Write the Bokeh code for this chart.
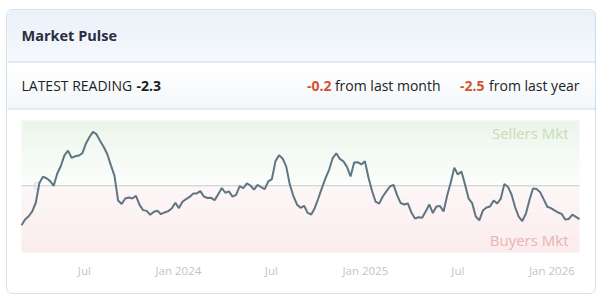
import numpy as np
import pandas as pd
from bokeh.plotting import figure
from bokeh.models import Range1d, BoxAnnotation, Label
from bokeh.core.properties import value
from bokeh.embed import file_html
from bokeh.resources import INLINE

# ---------------- data ----------------
start_date = "2023-02-28"
values = [
    -2.72, -2.32, -2.10, -1.77, -1.17, 0.19, 0.62, 0.52, 0.32, 0.00,
    0.85, 1.36, 2.10, 2.42, 1.93, 2.03, 2.08, 2.24, 2.90, 3.36,
    3.72, 3.54, 3.08, 2.67, 2.17, 1.41, 0.68, -1.01, -1.26, -0.88,
    -0.81, -0.88, -0.69, -1.32, -1.68, -1.73, -2.00, -1.79, -1.72, -1.96,
    -1.84, -1.75, -1.57, -1.17, -1.54, -1.10, -0.92, -0.77, -0.54, -0.53,
    -0.37, -0.74, -0.84, -0.83, -0.99, -0.58, -0.16, -0.48, -0.39, -0.75,
    -0.63, -0.02, -0.17, 0.17, 0.02, -0.26, 0.06, -0.10, -0.23, 0.30,
    0.46, 1.70, 2.10, 1.88, 1.34, 0.10, -0.70, -1.29, -1.52, -1.38,
    -1.87, -1.98, -1.53, -0.86, -0.14, 0.53, 1.10, 1.91, 2.24, 1.85,
    1.68, 1.30, 0.64, 1.61, 1.63, 1.47, 1.69, 0.57, -0.36, -1.10,
    -1.23, -0.74, -0.39, -0.05, 0.06, -0.64, -1.19, -1.29, -1.22, -1.84,
    -2.26, -2.17, -2.21, -1.77, -1.29, -1.88, -1.43, -1.39, -1.77, -0.67,
    0.23, 1.24, 0.78, 0.99, 0.09, -0.88, -1.20, -2.12, -2.39, -1.70,
    -1.50, -1.43, -1.01, -1.22, -0.88, 0.12, -0.08, -0.60, -1.48, -2.12,
    -2.43, -1.93, -0.99, -0.19, -0.23, -0.44, -0.94, -1.45, -1.54, -1.70,
    -1.84, -1.94, -2.32, -2.29, -1.99, -2.14, -2.30,
]
dates = pd.date_range(start_date, periods=len(values), freq="7D")

tick_dates = ["2023-07-01", "2024-01-01", "2024-07-01", "2025-01-01", "2025-07-01", "2026-01-01"]
tick_labels = ["Jul", "Jan 2024", "Jul", "Jan 2025", "Jul", "Jan 2026"]

title_text = "Market Pulse"
latest_label = "LATEST READING"
latest_value = "-2.3"
month_change = "-0.2"
month_text = "from last month"
year_change = "-2.5"
year_text = "from last year"
y_min, y_max = -4.6, 4.5

# ---------------- layout ----------------
W, H = 606, 303
FL, FR, FT, FB = 21, 579, 120, 252      # chart area (canvas px)
CL, CR, CT, CB = 7, 595, 10, 293        # card (canvas px)
FONT = "Open Sans"

def ms(d):
    return pd.Timestamp(d).value / 1e6

x0, x1 = ms(dates[0]), ms(dates[-1])
ms_per_px = (x1 - x0) / (FR - FL)
u = (y_max - y_min) / (FB - FT)
xr = Range1d(x0 - FL * ms_per_px, x1 + (W - FR) * ms_per_px)
yr = Range1d(y_min - (H - FB) * u, y_max + FT * u)

def dx(px):
    return xr.start + px * ms_per_px

def dy(py):
    return yr.end - py * u

p = figure(width=W, height=H, output_backend="svg", toolbar_location=None,
           x_range=xr, y_range=yr, x_axis_location=None, y_axis_location=None,
           min_border=0)
p.background_fill_color = "white"
p.border_fill_color = "white"
p.outline_line_color = None
p.grid.visible = False

def mix(c0, c1, t):
    return tuple(int(round(a + (b - a) * t)) for a, b in zip(c0, c1))

def to_img(arr):
    arr = np.ascontiguousarray(arr[::-1].astype(np.uint8))
    return arr.view(np.uint32).reshape(arr.shape[0], arr.shape[1])

# ---- card header background (gradients + separators) ----
hdr_top, hdr_bot = (233, 241, 248), (246, 249, 252)
row_top, row_bot = (255, 255, 255), (243, 247, 250)
sep = (204, 218, 230)
cw, ch = CR - CL, 109 - CT
card = np.zeros((ch, cw, 4))
for r in range(ch):
    py = CT + r
    if py < 61:
        c = mix(hdr_top, hdr_bot, (py - CT) / (61 - CT))
    elif py == 61 or py == 108:
        c = sep
    else:
        c = mix(row_top, row_bot, (py - 62) / (108 - 62))
    card[r, :, :3] = c
    card[r, :, 3] = 255
rad = 6
for r in range(rad):
    for cidx in range(rad):
        d = np.hypot(cidx + 0.5 - rad, r + 0.5 - rad)
        a = np.clip(rad + 0.5 - d, 0, 1) * 255
        card[r, cidx, 3] = a
        card[r, cw - 1 - cidx, 3] = a
p.image_rgba(image=[to_img(card)], x=dx(CL), y=dy(109), dw=cw * ms_per_px, dh=ch * u)

# ---- chart zone gradient ----
green_top, white = (235, 245, 235), (252, 254, 252)
pink_top, pink_bot = (253, 247, 247), (251, 236, 236)
zh = FB - FT
zero_py = FT + y_max / u
zone = np.zeros((zh, 2, 4))
for r in range(zh):
    py = FT + r + 0.5
    if py < zero_py:
        c = mix(green_top, white, (py - FT) / (zero_py - FT))
    else:
        c = mix(pink_top, pink_bot, (py - zero_py) / (FB - zero_py))
    zone[r, :, :3] = c
    zone[r, :, 3] = 255
p.image_rgba(image=[to_img(zone)], x=x0, y=y_min, dw=x1 - x0, dh=y_max - y_min)

# zero line
p.segment(x0=[dates[0]], x1=[dates[-1]], y0=[0], y1=[0], line_color="#cacaca", line_width=1)

# "0" label
p.text(x=[dx(33)], y=[0], text=["0"], text_baseline="middle", text_font=value(FONT),
       text_font_size=value("11px"), text_color="#d6d6d6")

# ---- the series ----
p.line(dates, values, line_color="#5f7583", line_width=2)

# ---- x tick labels ----
p.text(x=pd.to_datetime(tick_dates), y=[dy(270)] * len(tick_dates), text=tick_labels,
       text_align="center", text_baseline="middle", text_font=value(FONT),
       text_font_size=value("11.5px"), text_color="#c4c4c4")

# ---- zone labels ----
p.text(x=[dx(568)], y=[dy(132)], text=["Sellers Mkt"], text_align="right", text_baseline="middle",
       text_font=value(FONT), text_font_size=value("15px"), text_color="#c7dcb9")
p.text(x=[dx(568)], y=[dy(239)], text=["Buyers Mkt"], text_align="right", text_baseline="middle",
       text_font=value(FONT), text_font_size=value("15px"), text_color="#e7b5b5")

# ---- card border ----
p.add_layout(BoxAnnotation(left=CL - 1, right=CR, top=H - (CT - 1), bottom=H - CB,
                           left_units="screen", right_units="screen", top_units="screen",
                           bottom_units="screen", fill_color=None, line_color="#5e9cc8",
                           line_width=1, border_radius=6))

# ---- header texts ----
def lab(text, x, y, align="left", color="#222222", size="14px", style="normal"):
    p.add_layout(Label(x=x, y=H - y, x_units="screen", y_units="screen", text=text,
                       text_align=align, text_baseline="middle", text_font=FONT,
                       text_font_size=size, text_color=color, text_font_style=style))

lab(title_text, 21, 35, color="#282d42", size="14.5px", style="bold")
lab(latest_label, 21, 85)
lab(latest_value, 136, 85, style="bold", color="#1e1e1e")
lab(year_text, 579, 85, align="right")
lab(year_change, 484, 85, align="right", style="bold", color="#d2552f")
lab(month_text, 440, 85, align="right")
lab(month_change, 331, 85, align="right", style="bold", color="#d2552f")

open("out.html", "w").write(file_html(p, INLINE))
